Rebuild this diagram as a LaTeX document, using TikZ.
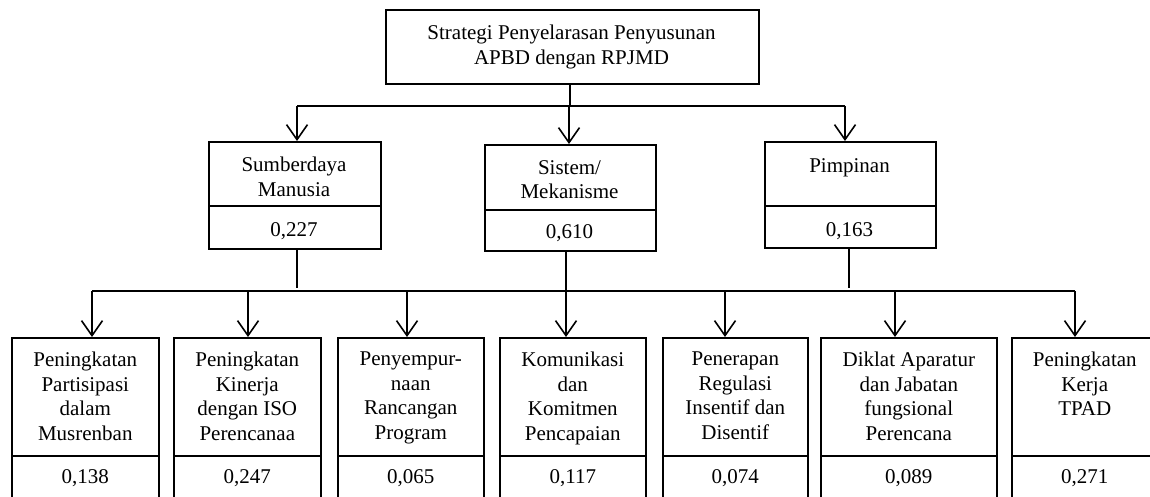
\documentclass[tikz,border=0pt]{standalone}
\usepackage{fontspec}
\setmainfont{Liberation Serif}
\usetikzlibrary{arrows.meta,calc}
\begin{document}
\begin{tikzpicture}[x=1pt,y=-1pt,
  box/.style={draw, line width=1.6pt, anchor=north west, inner sep=0pt},
  txt/.style={align=center, inner sep=0pt, anchor=north, font=\fontsize{21}{24.6}\selectfont,
    execute at begin node={\rule{0pt}{15pt}}},
  conn/.style={line width=1.6pt},
  arr/.style={line width=1.6pt, -{Straight Barb[length=15pt,width=21pt]}}]
\useasboundingbox (0,0) rectangle (1150,497);
% top box
\node[box, minimum width=373pt, minimum height=74pt] (top) at (385,9) {};
\node[txt] (topt) at (571.5,25) {Strategi Penyelarasan Penyusunan\\APBD dengan RPJMD};
% middle boxes
\node[box, minimum width=172pt, minimum height=64pt] (smb) at (208,141) {};
\node[box, minimum width=172pt, minimum height=43pt] (smbv) at (208,205) {};
\node[txt] (smbt) at (294,157) {Sumberdaya\\Manusia};
\node[txt] (smbn) at (294,221) {0,227};
\node[box, minimum width=171pt, minimum height=65pt] (sis) at (484,144) {};
\node[box, minimum width=171pt, minimum height=41pt] (sisv) at (484,209) {};
\node[txt] (sist) at (569.5,160) {Sistem/\\Mekanisme};
\node[txt] (sisn) at (569.5,223) {0,610};
\node[box, minimum width=171pt, minimum height=64pt] (pim) at (764,141) {};
\node[box, minimum width=171pt, minimum height=42pt] (pimv) at (764,205) {};
\node[txt] (pimt) at (849.5,157) {Pimpinan};
\node[txt] (pimn) at (849.5,221) {0,163};
% bottom boxes
\foreach \i/\xa/\w/\t/\v in {
  1/11/147/{Peningkatan\\Partisipasi\\dalam\\Musrenban}/{0,138},
  2/173/147/{Peningkatan\\Kinerja\\dengan ISO\\Perencanaa}/{0,247},
  3/337/146/{Penyempur-\\naan\\Rancangan\\Program}/{0,065},
  4/499/146/{Komunikasi\\dan\\Komitmen\\Pencapaian}/{0,117},
  5/662/145/{Penerapan\\Regulasi\\Insentif dan\\Disentif}/{0,074},
  6/820/176/{Diklat Aparatur\\dan Jabatan\\fungsional\\Perencana}/{0,089},
  7/1011/146/{Peningkatan\\Kerja\\TPAD}/{0,271}}{
  \node[box, minimum width=\w pt, minimum height=118pt] (b\i) at (\xa,337) {};
  \node[box, minimum width=\w pt, minimum height=60pt] (v\i) at (\xa,455) {};
  \node[txt] (bt\i) at ($(b\i.north)+(0,14.7)$) {\t};
  \node[txt] (vt\i) at ($(v\i.north)+(0,13)$) {\v};
}
% top connectors
\coordinate (bL) at (297,106);
\coordinate (bT) at (570,106);
\coordinate (bM) at (569,106);
\coordinate (bR) at (845,106);
\draw[conn] (bL) -- (bR);
\draw[conn] (bT |- top.south) -- (bT);
\draw[arr] (bL) -- (bL |- smb.north);
\draw[arr] (bM) -- (bM |- sis.north);
\draw[arr] (bR) -- (bR |- pim.north);
% lower bus
\foreach \i/\xx in {1/92,2/248,3/407,4/566,5/725,6/895,7/1075}{
  \coordinate (a\i) at (\xx,291);
}
\draw[conn] (a1) -- (a7);
\foreach \i in {1,...,7}{
  \draw[arr] (a\i) -- (a\i |- b\i.north);
}
\coordinate (s1) at (297,288);
\coordinate (p1) at (849,288);
\draw[conn] (s1 |- smbv.south) -- (s1);
\draw[conn] (a4 |- sisv.south) -- (a4);
\draw[conn] (p1 |- pimv.south) -- (p1);
\end{tikzpicture}
\end{document}
